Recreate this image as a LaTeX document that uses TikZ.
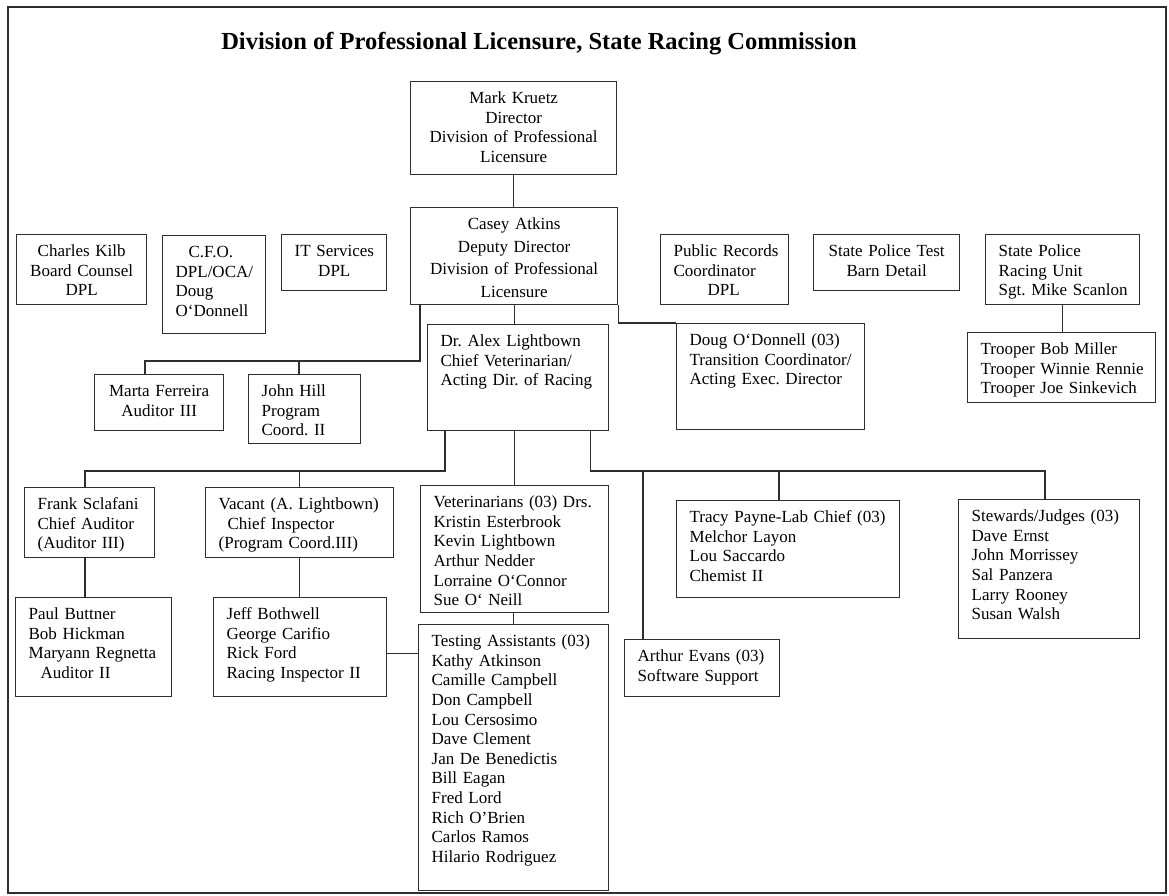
\documentclass[tikz,border=0pt]{standalone}
\usepackage{fontspec}
\setmainfont{Liberation Serif}
\usetikzlibrary{positioning}
\frenchspacing

% one row stack per box, left or centred
\newcommand{\rows}[2][l]{\begin{tabular}[t]{@{}#1@{}}#2\end{tabular}}

\colorlet{inkgray}{black!82}

\tikzset{
  % box of width #1 and height #2 (pixels), text hung from the top
  orgbox/.code 2 args={%
    \pgfmathsetmacro\boxtw{#1-26}%
    \pgfmathsetmacro\boxtd{#2-31}%
    \edef\boxnext{\noexpand\pgfkeysalso{draw=inkgray, line width=1.3pt,
      anchor=north west, align=left, inner xsep=13pt, inner ysep=9pt,
      text width=\boxtw pt, text height=13pt, text depth=\boxtd pt}}%
    \boxnext},
  link/.style={draw=inkgray, line width=1.3pt},
}

\begin{document}
\begin{tikzpicture}[x=1pt, y=-1pt, line join=miter,
    every node/.style={font=\fontsize{17}{19.6}\selectfont}]
  \path[fill=white, use as bounding box] (0,0) rectangle (1169,896);

  % outer frame and title
  \draw[inkgray, line width=2.2pt] (8,7) rectangle (1166,893);
  \node[anchor=base, font=\bfseries\fontsize{24.5}{28}\selectfont] (title) at (539,50)
    {Division of Professional Licensure, State Racing Commission};

  % top of the chart
  \node[orgbox={206}{93}, align=center] (kruetz) at (410,81)
    {\rows[c]{Mark Kruetz\\Director\\Division of Professional\\Licensure}};
  \node[orgbox={207}{97}, align=center] (atkins) at (410,207)
    {\def\arraystretch{1.15}\rows[c]{Casey Atkins\\Deputy Director\\Division of Professional\\Licensure}};

  % staff row
  \node[orgbox={130}{70}, align=center] (kilb) at (16,234)
    {\rows[c]{Charles Kilb\\Board Counsel\\DPL}};
  \node[orgbox={103}{98}] (cfo) at (162,235)
    {\rows{\hspace*{13pt}C.F.O.\\DPL/OCA/\\Doug\\O`Donnell}};
  \node[orgbox={105}{56}, align=center] (itserv) at (281,234)
    {\rows[c]{IT Services\\DPL}};
  \node[orgbox={128}{70}] (records) at (660,234)
    {\rows{Public Records\\Coordinator\\\hspace*{34pt}DPL}};
  \node[orgbox={146}{56}, align=center] (testbarn) at (813,234)
    {\rows[c]{State Police Test\\Barn Detail}};
  \node[orgbox={154}{70}] (police) at (985,234)
    {\rows{State Police\\Racing Unit\\Sgt. Mike Scanlon}};
  \node[orgbox={188}{70}] (troopers) at (967,332)
    {\rows{Trooper Bob Miller\\Trooper Winnie Rennie\\Trooper Joe Sinkevich}};

  % second level
  \node[orgbox={129}{56}, align=center] (ferreira) at (94,374)
    {\rows[c]{Marta Ferreira\\Auditor III}};
  \node[orgbox={112}{69}] (hill) at (248,374)
    {\rows{John Hill\\Program\\Coord. II}};
  \node[orgbox={181}{106}] (lightbown) at (427,324)
    {\rows{Dr. Alex Lightbown\\Chief Veterinarian/\\Acting Dir. of Racing}};
  \node[orgbox={188}{106}] (odonnell) at (676,323)
    {\rows{Doug O`Donnell (03)\\Transition Coordinator/\\Acting Exec. Director}};

  % racing staff
  \node[orgbox={130}{70}] (sclafani) at (24,487)
    {\rows{Frank Sclafani\\Chief Auditor\\(Auditor III)}};
  \node[orgbox={188}{70}] (vacant) at (205,487)
    {\rows{Vacant (A. Lightbown)\\\hspace*{9pt}Chief Inspector\\(Program Coord.III)}};
  \node[orgbox={188}{127}] (vets) at (420,485)
    {\rows{Veterinarians (03) Drs.\\Kristin Esterbrook\\Kevin Lightbown\\Arthur Nedder\\Lorraine O`Connor\\Sue O` Neill}};
  \node[orgbox={223}{97}] (payne) at (676,500)
    {\rows{Tracy Payne-Lab Chief (03)\\Melchor Layon\\Lou Saccardo\\Chemist II}};
  \node[orgbox={181}{139}] (stewards) at (958,499)
    {\rows{Stewards/Judges (03)\\Dave Ernst\\John Morrissey\\Sal Panzera\\Larry Rooney\\Susan Walsh}};

  % bottom row
  \node[orgbox={156}{99}] (buttner) at (15,597)
    {\rows{Paul Buttner\\Bob Hickman\\Maryann Regnetta\\\hspace*{12pt}Auditor II}};
  \node[orgbox={173}{99}] (bothwell) at (213,597)
    {\rows{Jeff Bothwell\\George Carifio\\Rick Ford\\Racing Inspector II}};
  \node[orgbox={190}{266}] (testing) at (418,624)
    {\rows{Testing Assistants (03)\\Kathy Atkinson\\Camille Campbell\\Don Campbell\\Lou Cersosimo\\Dave Clement\\Jan De Benedictis\\Bill Eagan\\Fred Lord\\Rich O'Brien\\Carlos Ramos\\Hilario Rodriguez}};
  \node[orgbox={155}{57}] (evans) at (624,639)
    {\rows{Arthur Evans (03)\\Software Support}};

  % bus lines
  \coordinate (busL) at (145,361);
  \coordinate (dropHill) at (299,361);
  \coordinate (busV) at (85,471);
  \coordinate (busR) at (1045,471);
  \coordinate (dropEvans) at (643,471);
  \coordinate (dropLab) at (779,471);

  % connectors
  \draw[link] (kruetz.south) -- (kruetz.south |- atkins.north);
  \draw[link] (atkins.south) -- (atkins.south |- lightbown.north);
  \draw[link] (atkins.south east) |- (odonnell.north west);
  \draw[link] ([xshift=10pt]atkins.south west) |- (busL) -- (busL |- ferreira.north);
  \draw[link] (dropHill) -- (dropHill |- hill.north);
  \draw[link] (police.south) -- (police.south |- troopers.north);

  \draw[link] ([xshift=18pt]lightbown.south west) |- (busV) -- (busV |- sclafani.north);
  \draw[link] (vacant.north |- busV) -- (vacant.north);
  \draw[link] (vets.north |- lightbown.south) -- (vets.north);
  \draw[link] ([xshift=-19pt]lightbown.south east) |- (busR) -- (busR |- stewards.north);
  \draw[link] (dropEvans) -- (dropEvans |- evans.north);
  \draw[link] (dropLab) -- (dropLab |- payne.north);

  \draw[link] (busV |- sclafani.south) -- (busV |- buttner.north);
  \draw[link] (vacant.south) -- (vacant.south |- bothwell.north);
  \draw[link] (testing.north |- vets.south) -- (testing.north);
  \draw[link] ([yshift=-6.5pt]bothwell.east) -- ([yshift=-6.5pt]bothwell.east -| testing.west);
\end{tikzpicture}
\end{document}
